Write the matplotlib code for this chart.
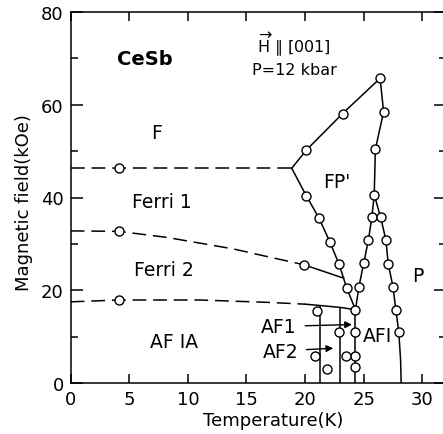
import matplotlib
matplotlib.use('Agg')
import matplotlib.pyplot as plt

# phase boundaries (T in K, H in kOe)
f_dash_T = [0, 4.15, 18.86]
f_dash_H = [46.3, 46.3, 46.3]

ferri2_dash_T = [0, 4.1, 8.2, 13.9, 16.7, 19.9]
ferri2_dash_H = [32.8, 32.7, 31.4, 28.9, 27.3, 25.5]
ferri2_solid_T = [19.9, 23.3]
ferri2_solid_H = [25.5, 22.6]

af1a_dash_T = [0, 4.1, 11.0, 16.7, 20.0]
af1a_dash_H = [17.5, 17.9, 17.9, 17.4, 17.0]
af1a_solid_T = [20.0, 21.3, 23.0, 24.3]
af1a_solid_H = [17.0, 16.7, 16.3, 15.8]

fp_upper_T = [18.86, 20.1, 23.2, 26.4]
fp_upper_H = [46.3, 50.2, 58.1, 65.7]
fp_right_T = [26.4, 26.7, 26.0, 25.9]
fp_right_H = [65.7, 58.5, 50.4, 40.6]
ferri1_T = [18.86, 20.1, 21.2, 22.1, 22.9, 23.55, 24.3]
ferri1_H = [46.3, 40.4, 35.5, 30.5, 25.6, 20.5, 15.8]

afi_left_T = [24.3, 24.6, 25.0, 25.4, 25.7, 25.9]
afi_left_H = [15.8, 20.8, 25.8, 30.8, 35.7, 40.6]
afi_right_T = [25.9, 26.45, 26.9, 27.1, 27.5, 27.75, 28.0, 28.15, 28.2]
afi_right_H = [40.6, 35.7, 30.8, 25.6, 20.8, 15.7, 10.9, 5.0, 0]

# vertical AF boundaries
af_vert_T = [21.3, 23.0, 24.3]
af_vert_top = [16.7, 16.3, 15.8]

# measured points (open circles)
pts_T = [4.15, 4.1, 4.1, 20.1, 23.2, 26.4, 26.7, 26.0, 25.9, 20.1, 21.2,
         22.1, 22.9, 23.55, 24.3, 19.9, 24.6, 25.0, 25.4, 25.7, 26.45, 26.9,
         27.1, 27.5, 27.75, 28.0, 24.3, 24.3, 24.3, 21.0, 22.9, 20.85, 21.9,
         23.5]
pts_H = [46.3, 32.7, 17.9, 50.2, 58.1, 65.7, 58.5, 50.4, 40.6, 40.4, 35.5,
         30.5, 25.6, 20.5, 15.8, 25.5, 20.8, 25.8, 30.8, 35.7, 35.7, 30.8,
         25.6, 20.8, 15.7, 10.9, 11.0, 5.9, 3.5, 15.6, 10.9, 5.8, 3.0, 5.8]

phase_labels = ['F', 'FP\'', 'Ferri 1', 'Ferri 2', 'AF IA', 'AFI', 'P']
phase_T = [7.3, 22.7, 7.8, 7.95, 8.8, 26.2, 29.6]
phase_H = [54.1, 43.5, 39.2, 24.4, 8.9, 10.2, 23.1]

lw = 1.1
dash = (9, 4.5)

fig = plt.figure(figsize=(4.43, 4.35), dpi=100)
ax = fig.add_axes([70.7 / 443, 51 / 435, 375 / 443, 371 / 435])

for T, H in [(f_dash_T, f_dash_H), (ferri2_dash_T, ferri2_dash_H), (af1a_dash_T, af1a_dash_H)]:
    ax.plot(T, H, color='black', linewidth=lw, dashes=dash)

for T, H in [(ferri2_solid_T, ferri2_solid_H), (af1a_solid_T, af1a_solid_H),
             (fp_upper_T, fp_upper_H), (fp_right_T, fp_right_H),
             (ferri1_T, ferri1_H), (afi_left_T, afi_left_H), (afi_right_T, afi_right_H)]:
    ax.plot(T, H, color='black', linewidth=lw)

ax.vlines(af_vert_T, 0, af_vert_top, color='black', linewidth=lw)

ax.plot(pts_T, pts_H, linestyle='none', marker='o', markersize=6.5,
        markerfacecolor='white', markeredgecolor='black', markeredgewidth=1.0, zorder=5)

for s, t, h in zip(phase_labels, phase_T, phase_H):
    ax.text(t, h, s, fontsize=13.5, ha='center', va='center')

ax.text(6.35, 70.0, 'CeSb', fontsize=14, fontweight='bold', ha='center', va='center')
ax.text(19.05, 73.1, r'$\overrightarrow{\mathrm{H}}$ ∥ [001]', fontsize=11.5, ha='center', va='center')
ax.text(19.1, 67.7, 'P=12 kbar', fontsize=11.5, ha='center', va='center')

ax.annotate('AF1', xy=(24.0, 12.6), xytext=(19.3, 12.2), fontsize=13.5, ha='right', va='center',
            arrowprops=dict(arrowstyle='-|>', color='black', lw=1.0, shrinkA=4, shrinkB=0,
                            mutation_scale=10))
ax.annotate('AF2', xy=(22.4, 7.5), xytext=(19.4, 6.9), fontsize=13.5, ha='right', va='center',
            arrowprops=dict(arrowstyle='-|>', color='black', lw=1.0, shrinkA=4, shrinkB=0,
                            mutation_scale=10))

ax.set_xlim(0, 32)
ax.set_ylim(0, 80)
ax.set_xticks([0, 5, 10, 15, 20, 25, 30])
ax.set_yticks([0, 20, 40, 60, 80])
ax.set_yticks([10, 30, 50, 70], minor=True)
ax.tick_params(axis='both', which='both', direction='in', top=True, right=True,
               labelsize=13, width=1.1)
ax.tick_params(axis='x', which='major', length=6.5, pad=5)
ax.tick_params(axis='y', which='major', length=8.5, pad=5)
ax.tick_params(axis='y', which='minor', length=5)
for sp in ax.spines.values():
    sp.set_linewidth(1.1)

ax.set_xlabel('Temperature(K)', fontsize=13)
ax.set_ylabel('Magnetic field(kOe)', fontsize=13)
ax.xaxis.set_label_coords(0.54, -0.076)
ax.yaxis.set_label_coords(-0.10, 0.49)

fig.savefig('out.png', dpi=100)
